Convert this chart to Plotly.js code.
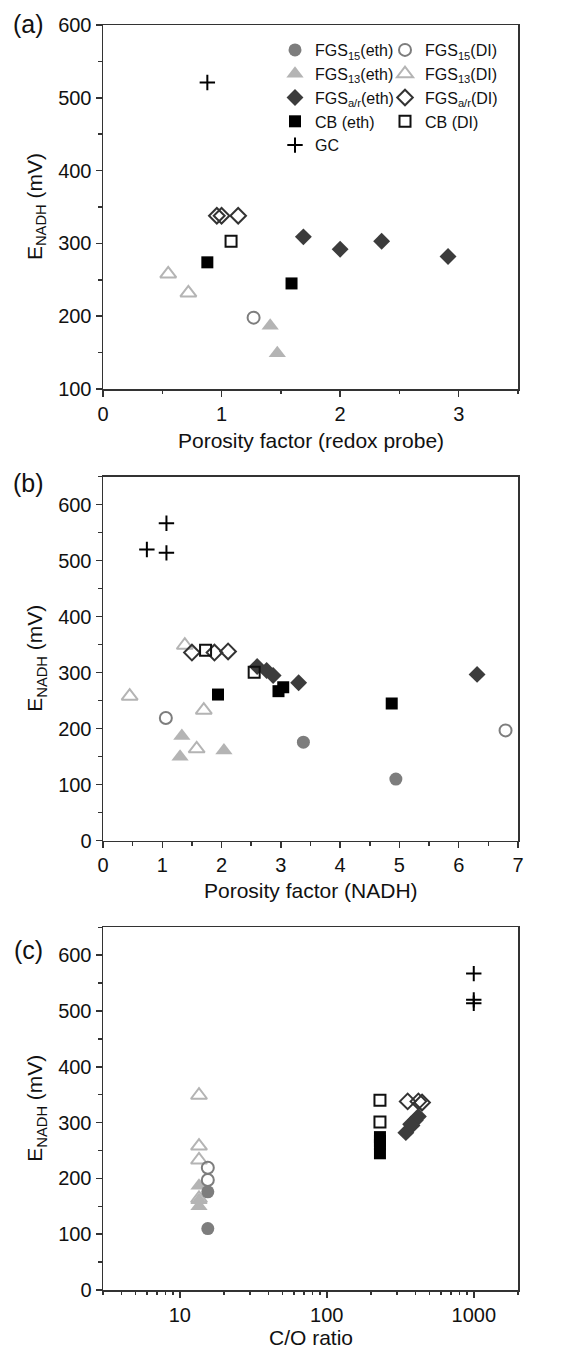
<!DOCTYPE html>
<html><head><meta charset="utf-8">
<script src="https://cdn.plot.ly/plotly-3.0.1.min.js"></script>
<style>html,body{margin:0;padding:0;background:#fff}</style>
</head><body><div id="chart" style="width:570px;height:1351px"></div>
<script>
// ---------- Data ----------
// Panel (a): x = porosity factor (redox probe)
const a_FGS15_DI_x = [1.27];            const a_FGS15_DI_y = [198];
const a_FGS13_eth_x = [1.41, 1.47];     const a_FGS13_eth_y = [187, 149];
const a_FGS13_DI_x = [0.55, 0.72];      const a_FGS13_DI_y = [258, 232];
const a_FGSar_eth_x = [1.69, 2.0, 2.35, 2.91]; const a_FGSar_eth_y = [309, 292, 303, 282];
const a_FGSar_DI_x = [0.96, 1.0, 1.14]; const a_FGSar_DI_y = [338, 338, 338];
const a_CB_eth_x = [0.88, 1.59];        const a_CB_eth_y = [274, 245];
const a_CB_DI_x = [1.08];               const a_CB_DI_y = [303];
const a_GC_x = [0.88];                  const a_GC_y = [521];

// Panel (b): x = porosity factor (NADH)
const b_FGS15_eth_x = [3.38, 4.94];     const b_FGS15_eth_y = [176, 110];
const b_FGS15_DI_x = [1.06, 6.79];      const b_FGS15_DI_y = [219, 197];
const b_FGS13_eth_x = [1.30, 1.33, 2.04]; const b_FGS13_eth_y = [150, 187, 161];
const b_FGS13_DI_x = [0.45, 1.38, 1.58, 1.70]; const b_FGS13_DI_y = [258, 349, 164, 233];
const b_FGSar_eth_x = [2.60, 2.76, 2.87, 3.30, 6.31]; const b_FGSar_eth_y = [311, 304, 295, 282, 297];
const b_FGSar_DI_x = [1.50, 1.88, 2.11]; const b_FGSar_DI_y = [336, 336, 338];
const b_CB_eth_x = [1.94, 2.96, 3.04, 4.87]; const b_CB_eth_y = [261, 267, 274, 245];
const b_CB_DI_x = [1.73, 2.55];         const b_CB_DI_y = [340, 301];
const b_GC_x = [0.74, 1.07, 1.07];      const b_GC_y = [520, 567, 514];

// Panel (c): x = C/O ratio
const c_FGS15_eth_x = [15.5, 15.5];     const c_FGS15_eth_y = [176, 110];
const c_FGS15_DI_x = [15.5, 15.5];      const c_FGS15_DI_y = [219, 197];
const c_FGS13_eth_x = [13.5, 13.5, 13.5]; const c_FGS13_eth_y = [150, 187, 161];
const c_FGS13_DI_x = [13.5, 13.5, 13.5, 13.5]; const c_FGS13_DI_y = [258, 349, 164, 233];
const c_FGSar_eth_x = [420, 400, 380, 345, 372]; const c_FGSar_eth_y = [311, 304, 295, 282, 297];
const c_FGSar_DI_x = [355, 420, 445];   const c_FGSar_DI_y = [338, 338, 336];
const c_CB_eth_x = [230, 230, 230, 230]; const c_CB_eth_y = [261, 267, 274, 245];
const c_CB_DI_x = [230, 230];           const c_CB_DI_y = [340, 301];
const c_GC_x = [1000, 1000, 1000];      const c_GC_y = [520, 567, 514];

const seriesNames = {
  FGS15_eth: 'FGS<sub>15</sub>(eth)', FGS15_DI: 'FGS<sub>15</sub>(DI)',
  FGS13_eth: 'FGS<sub>13</sub>(eth)', FGS13_DI: 'FGS<sub>13</sub>(DI)',
  FGSar_eth: 'FGS<sub>a/r</sub>(eth)', FGSar_DI: 'FGS<sub>a/r</sub>(DI)',
  CB_eth: 'CB (eth)', CB_DI: 'CB (DI)', GC: 'GC'
};

// ---------- Styles ----------
const FONT = 'Liberation Sans, Arial, sans-serif';
const styles = {
  FGS15_eth: {symbol:'circle', size:13, color:'#7d7d7d', line:{width:0}},
  FGS15_DI:  {symbol:'circle-open', size:12, color:'#7d7d7d', line:{width:2, color:'#7d7d7d'}},
  FGS13_eth: {symbol:'triangle-up', size:15, color:'#b4b4b4', line:{width:0}},
  FGS13_DI:  {symbol:'triangle-up-open', size:14, color:'#b4b4b4', line:{width:2, color:'#b4b4b4'}},
  FGSar_eth: {symbol:'diamond', size:13, color:'#3c3c3c', line:{width:0}},
  FGSar_DI:  {symbol:'diamond-open', size:12, color:'#333333', line:{width:2, color:'#333333'}},
  CB_eth:    {symbol:'square', size:12, color:'#000000', line:{width:0}},
  CB_DI:     {symbol:'square-open', size:11, color:'#111111', line:{width:2, color:'#111111'}},
  GC:        {symbol:'cross-thin', size:11, color:'#000000', line:{width:2, color:'#000000'}}
};
const legendOf = {FGS15_eth:'legend', FGS13_eth:'legend', FGSar_eth:'legend', CB_eth:'legend', GC:'legend',
                  FGS15_DI:'legend2', FGS13_DI:'legend2', FGSar_DI:'legend2', CB_DI:'legend2'};

function tr(key, xs, ys, xa, ya, show) {
  return {type:'scatter', mode:'markers', x:xs, y:ys, xaxis:xa, yaxis:ya,
    name: seriesNames[key], marker: styles[key], showlegend: !!show,
    legend: legendOf[key], legendgroup: key, hoverinfo:'x+y'};
}

const data = [
  // panel a
  tr('FGS13_DI', a_FGS13_DI_x, a_FGS13_DI_y, 'x', 'y'),
  tr('FGS15_DI', a_FGS15_DI_x, a_FGS15_DI_y, 'x', 'y'),
  tr('FGS13_eth', a_FGS13_eth_x, a_FGS13_eth_y, 'x', 'y'),
  tr('FGSar_DI', a_FGSar_DI_x, a_FGSar_DI_y, 'x', 'y'),
  tr('CB_DI', a_CB_DI_x, a_CB_DI_y, 'x', 'y'),
  tr('CB_eth', a_CB_eth_x, a_CB_eth_y, 'x', 'y'),
  tr('FGSar_eth', a_FGSar_eth_x, a_FGSar_eth_y, 'x', 'y'),
  tr('GC', a_GC_x, a_GC_y, 'x', 'y'),
  // panel b (carries legend entries)
  tr('FGS15_eth', b_FGS15_eth_x, b_FGS15_eth_y, 'x2', 'y2', true),
  tr('FGS15_DI', b_FGS15_DI_x, b_FGS15_DI_y, 'x2', 'y2', true),
  tr('FGS13_eth', b_FGS13_eth_x, b_FGS13_eth_y, 'x2', 'y2', true),
  tr('FGS13_DI', b_FGS13_DI_x, b_FGS13_DI_y, 'x2', 'y2', true),
  tr('FGSar_DI', b_FGSar_DI_x, b_FGSar_DI_y, 'x2', 'y2', true),
  tr('FGSar_eth', b_FGSar_eth_x, b_FGSar_eth_y, 'x2', 'y2', true),
  tr('CB_DI', b_CB_DI_x, b_CB_DI_y, 'x2', 'y2', true),
  tr('CB_eth', b_CB_eth_x, b_CB_eth_y, 'x2', 'y2', true),
  tr('GC', b_GC_x, b_GC_y, 'x2', 'y2', true),
  // panel c
  tr('FGS13_DI', c_FGS13_DI_x, c_FGS13_DI_y, 'x3', 'y3'),
  tr('FGS13_eth', c_FGS13_eth_x, c_FGS13_eth_y, 'x3', 'y3'),
  tr('FGS15_DI', c_FGS15_DI_x, c_FGS15_DI_y, 'x3', 'y3'),
  tr('FGS15_eth', c_FGS15_eth_x, c_FGS15_eth_y, 'x3', 'y3'),
  tr('CB_DI', c_CB_DI_x, c_CB_DI_y, 'x3', 'y3'),
  tr('CB_eth', c_CB_eth_x, c_CB_eth_y, 'x3', 'y3'),
  tr('FGSar_DI', c_FGSar_DI_x, c_FGSar_DI_y, 'x3', 'y3'),
  tr('FGSar_eth', c_FGSar_eth_x, c_FGSar_eth_y, 'x3', 'y3'),
  tr('GC', c_GC_x, c_GC_y, 'x3', 'y3')
];

// ---------- Layout ----------
const W = 570, H = 1351, ML = 103, MR = 52, MT = 25, MB = 61;
const PH = H - MT - MB;
const py = p => (H - MB - p) / PH;          // page y -> paper y
const px = p => (p - ML) / (W - ML - MR);   // page x -> paper x
const LC = '#333333';
const tickFont = {family: FONT, size: 20, color: '#111'};

function baseAxis(extra) {
  return Object.assign({
    showline: true, linecolor: LC, linewidth: 1.5, mirror: true,
    ticks: 'outside', ticklen: 6, tickwidth: 1.5, tickcolor: LC,
    showgrid: false, zeroline: false, tickfont: tickFont, fixedrange: true,
    ticklabeloverflow: 'allow'
  }, extra);
}
function mirrorAxis(extra) {
  return Object.assign({
    showline: false, ticks: 'inside', ticklen: 6, tickwidth: 1.5, tickcolor: LC,
    showticklabels: false, showgrid: false, zeroline: false, fixedrange: true
  }, extra);
}
const minorLin = (d, dir) => ({dtick: d, ticks: dir, ticklen: 3.5, tickwidth: 1.5, tickcolor: LC, showgrid: false});

const domA = [py(389), py(25)], domB = [py(840.7), py(476.7)], domC = [0, py(927.3)];
const xrA = [0, 3.5], yrA = [100, 600];
const xrB = [0, 7], yrB = [0, 650];
const xrC = [Math.log10(3), Math.log10(2000)], yrC = [0, 650];

const layout = {
  width: W, height: H, margin: {l: ML, r: MR, t: MT, b: MB},
  paper_bgcolor: '#fff', plot_bgcolor: '#fff',
  font: {family: FONT, color: '#111'},
  xaxis:  baseAxis({domain:[0,1], anchor:'y',  range:xrA, dtick:1, tick0:0, minor: minorLin(0.5,'outside')}),
  yaxis:  baseAxis({domain:domA, anchor:'x',  range:yrA, dtick:100, tick0:0, minor: minorLin(50,'outside')}),
  xaxis2: baseAxis({domain:[0,1], anchor:'y2', range:xrB, dtick:1, tick0:0, minor: minorLin(0.5,'outside')}),
  yaxis2: baseAxis({domain:domB, anchor:'x2', range:yrB, dtick:100, tick0:0, minor: minorLin(50,'outside')}),
  xaxis3: baseAxis({domain:[0,1], anchor:'y3', type:'log', range:xrC, dtick:1, tick0:0, exponentformat:'none',
                    minor: {dtick:'D1', ticks:'outside', ticklen:3.5, tickwidth:1.5, tickcolor:LC, showgrid:false}}),
  yaxis3: baseAxis({domain:domC, anchor:'x3', range:yrC, dtick:100, tick0:0, minor: minorLin(50,'outside')}),
  // inward ticks on top / right
  xaxis4: mirrorAxis({overlaying:'x', anchor:'y', side:'top', range:xrA, dtick:1, tick0:0, minor: minorLin(0.5,'inside')}),
  yaxis4: mirrorAxis({overlaying:'y', anchor:'x', side:'right', range:yrA, dtick:100, tick0:0, minor: minorLin(50,'inside')}),
  xaxis5: mirrorAxis({overlaying:'x2', anchor:'y2', side:'top', range:xrB, dtick:1, tick0:0, minor: minorLin(0.5,'inside')}),
  yaxis5: mirrorAxis({overlaying:'y2', anchor:'x2', side:'right', range:yrB, dtick:100, tick0:0, minor: minorLin(50,'inside')}),
  xaxis6: mirrorAxis({overlaying:'x3', anchor:'y3', side:'top', type:'log', range:xrC, dtick:1, tick0:0,
                      minor: {dtick:'D1', ticks:'inside', ticklen:3.5, tickwidth:1.5, tickcolor:LC, showgrid:false}}),
  yaxis6: mirrorAxis({overlaying:'y3', anchor:'x3', side:'right', range:yrC, dtick:100, tick0:0, minor: minorLin(50,'inside')}),
  legend:  {x: px(275), y: py(33), xanchor:'left', yanchor:'top', bgcolor:'rgba(0,0,0,0)', borderwidth:0,
            font:{family:FONT, size:16, color:'#111'}, itemwidth:30, tracegroupgap:0, traceorder:'normal'},
  legend2: {x: px(385), y: py(33), xanchor:'left', yanchor:'top', bgcolor:'rgba(0,0,0,0)', borderwidth:0,
            font:{family:FONT, size:16, color:'#111'}, itemwidth:30, tracegroupgap:0, traceorder:'normal'},
  annotations: [
    {text:'(a)', xref:'paper', yref:'paper', x:px(28), y:py(24), showarrow:false, xanchor:'center', yanchor:'middle', font:{family:FONT, size:25}},
    {text:'(b)', xref:'paper', yref:'paper', x:px(28), y:py(483), showarrow:false, xanchor:'center', yanchor:'middle', font:{family:FONT, size:25}},
    {text:'(c)', xref:'paper', yref:'paper', x:px(28), y:py(950), showarrow:false, xanchor:'center', yanchor:'middle', font:{family:FONT, size:25}},
    {text:'Porosity factor (redox probe)', xref:'paper', yref:'paper', x:0.5, y:py(440), showarrow:false, yanchor:'middle', font:{family:FONT, size:21}},
    {text:'Porosity factor (NADH)', xref:'paper', yref:'paper', x:0.5, y:py(890), showarrow:false, yanchor:'middle', font:{family:FONT, size:21}},
    {text:'C/O ratio', xref:'paper', yref:'paper', x:0.5, y:py(1337), showarrow:false, yanchor:'middle', font:{family:FONT, size:21}},
    {text:'E<sub>NADH</sub> (mV)', xref:'paper', yref:'paper', x:px(36), y:(domA[0]+domA[1])/2, textangle:-90, showarrow:false, xanchor:'center', yanchor:'middle', font:{family:FONT, size:21}},
    {text:'E<sub>NADH</sub> (mV)', xref:'paper', yref:'paper', x:px(36), y:(domB[0]+domB[1])/2, textangle:-90, showarrow:false, xanchor:'center', yanchor:'middle', font:{family:FONT, size:21}},
    {text:'E<sub>NADH</sub> (mV)', xref:'paper', yref:'paper', x:px(36), y:(domC[0]+domC[1])/2, textangle:-90, showarrow:false, xanchor:'center', yanchor:'middle', font:{family:FONT, size:21}}
  ]
};

Plotly.newPlot('chart', data, layout, {displayModeBar:false, staticPlot:true});
</script></body></html>
